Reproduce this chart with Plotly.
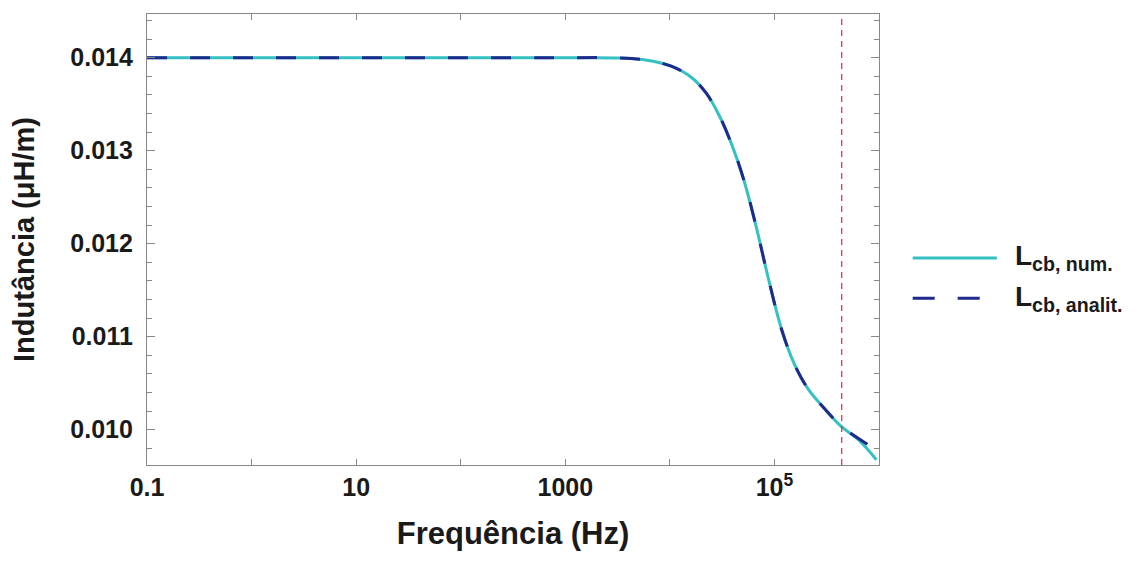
import plotly.graph_objects as go

# frequencia (Hz) e indutancia (uH/m)
freq_num = [0.1, 1, 10, 100, 1000, 3260, 6310, 10450, 16200, 22100, 29400, 39100,
            50900, 66200, 88100, 117300, 156000, 212000, 308000, 438000, 635000, 944000]
l_num = [0.01400, 0.01400, 0.01400, 0.01400, 0.01400, 0.013997, 0.013971, 0.013906,
         0.013785, 0.013624, 0.013387, 0.013065, 0.012688, 0.012204, 0.011613,
         0.011075, 0.010699, 0.010430, 0.010215, 0.010032, 0.009892, 0.009677]

freq_an = [0.1, 1, 10, 100, 1000, 3260, 6310, 10450, 16200, 22100, 29400, 39100,
           50900, 66200, 88100, 117300, 156000, 212000, 308000, 438000, 511000,
           847000, 944000]
l_an = [0.01400, 0.01400, 0.01400, 0.01400, 0.01400, 0.013997, 0.013971, 0.013906,
        0.013785, 0.013624, 0.013387, 0.013065, 0.012688, 0.012204, 0.011613,
        0.011075, 0.010699, 0.010430, 0.010215, 0.010032, 0.009978, 0.009817,
        0.009790]

f_lim = 440000
y_range = [0.00962, 0.01447]

x_ticks = [0.1, 1, 10, 100, 1000, 1e4, 1e5, 1e6]
x_labels = ["<b>0.1</b>", "", "<b>10</b>", "", "<b>1000</b>", "", "<b>10<sup>5</sup></b>", ""]
y_ticks = [0.010, 0.011, 0.012, 0.013, 0.014]
y_labels = ["<b>0.010</b>", "<b>0.011</b>", "<b>0.012</b>", "<b>0.013</b>", "<b>0.014</b>"]

cyan = "#35c1c1"
navy = "#1f2a8c"
font = "Liberation Sans"
ink = "#1a1a1a"

fig = go.Figure()
fig.add_trace(go.Scatter(x=freq_num, y=l_num, mode="lines", line_shape="spline",
                         line=dict(color=cyan, width=3), showlegend=False))
fig.add_trace(go.Scatter(x=freq_an, y=l_an, mode="lines", line_shape="spline",
                         line=dict(color=navy, width=3, dash="20px,23px"), showlegend=False))
fig.add_trace(go.Scatter(x=[f_lim, f_lim], y=y_range, mode="lines",
                         line=dict(color="#d8283a", width=1.2, dash="6px,5px"), showlegend=False))

# legenda desenhada a mao
legend = [("L<sub>cb, num.</sub>", cyan, "solid", 1.161, 0.459),
          ("L<sub>cb, analit.</sub>", navy, "22px,23px", 1.138, 0.370)]
for text, color, dash, xend, yy in legend:
    fig.add_shape(type="line", xref="paper", yref="paper", x0=1.046, x1=xend, y0=yy, y1=yy,
                  line=dict(color=color, width=3, dash=dash))
    fig.add_annotation(xref="paper", yref="paper", x=1.183, y=yy, text="<b>" + text + "</b>",
                       showarrow=False, xanchor="left", yanchor="middle",
                       font=dict(family=font, size=28, color=ink))

axis_common = dict(showline=True, linecolor="#888", linewidth=1.3, mirror="ticks",
                   ticks="inside", tickcolor="#888", showgrid=False, zeroline=False,
                   automargin=False, tickfont=dict(family=font, size=25, color=ink))

fig.update_xaxes(type="log", range=[-1, 6], tickvals=x_ticks, ticktext=x_labels, ticklen=6,
                 title=dict(text="<b>Frequência (Hz)</b>", font=dict(family=font, size=31, color=ink),
                            standoff=22),
                 **axis_common)
fig.update_yaxes(range=y_range, tickvals=y_ticks, ticktext=y_labels, ticklen=8,
                 ticklabelstandoff=8,
                 minor=dict(dtick=0.0002, tick0=0.010, ticks="inside", ticklen=5, tickcolor="#888"),
                 title=dict(text="<b>Indutância (μH/m)</b>", font=dict(family=font, size=29, color=ink),
                            standoff=30),
                 **axis_common)

# a pagina tem 8px de margem no body: compensado aqui
fig.update_layout(width=1140, height=563, plot_bgcolor="white", paper_bgcolor="white",
                  margin=dict(l=139, r=269, t=6, b=106), font=dict(family=font))

fig.write_html("out.html")
